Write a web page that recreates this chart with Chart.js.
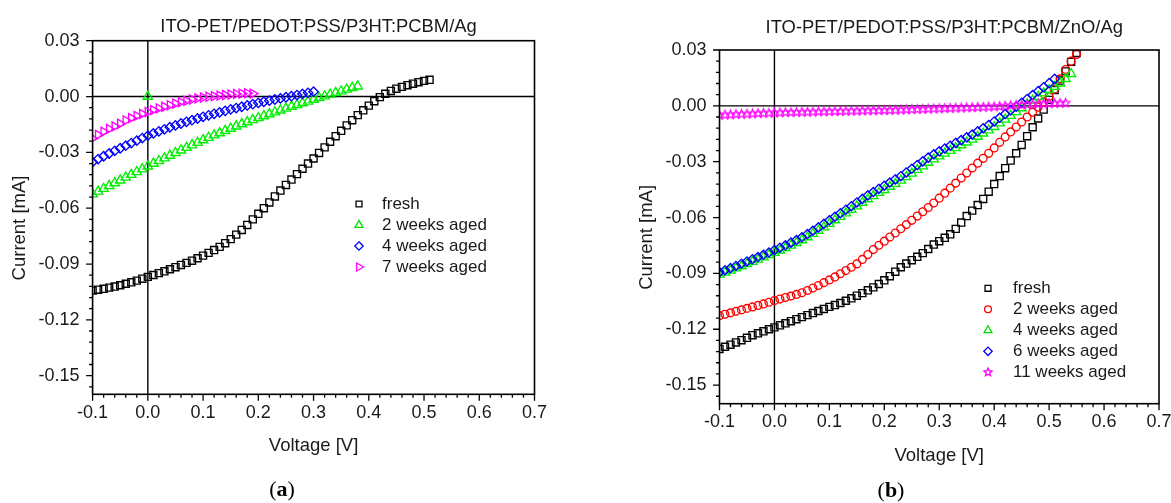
<!DOCTYPE html>
<html><head><meta charset="utf-8">
<script src="https://cdn.jsdelivr.net/npm/chart.js@4/dist/chart.umd.min.js"></script>
<style>
html,body{margin:0;padding:0;background:#fff;width:1171px;height:503px;overflow:hidden}
#wa{position:absolute;left:0;top:0;width:590px;height:503px}
#wb{position:absolute;left:590px;top:0;width:581px;height:503px}
</style></head><body>
<div id="wa"><canvas id="ca" width="590" height="503"></canvas></div>
<div id="wb"><canvas id="cb" width="581" height="503"></canvas></div>
<script>
// ---------- axis ticks ----------
const xTickValues = [-0.1,0.0,0.1,0.2,0.3,0.4,0.5,0.6,0.7];
const xTickLabels = ['-0.1','0.0','0.1','0.2','0.3','0.4','0.5','0.6','0.7'];
const yTickValues = [-0.15,-0.12,-0.09,-0.06,-0.03,0.00,0.03];
const yTickLabels = ['-0.15','-0.12','-0.09','-0.06','-0.03','0.00','0.03'];

// ---------- panel (a): ITO-PET/PEDOT:PSS/P3HT:PCBM/Ag ----------
const voltageA = [-0.10,-0.09,-0.08,-0.07,-0.06,-0.05,-0.04,-0.03,-0.02,-0.01,
  0.00,0.01,0.02,0.03,0.04,0.05,0.06,0.07,0.08,0.09,
  0.10,0.11,0.12,0.13,0.14,0.15,0.16,0.17,0.18,0.19,
  0.20,0.21,0.22,0.23,0.24,0.25,0.26,0.27,0.28,0.29,
  0.30,0.31,0.32,0.33,0.34,0.35,0.36,0.37,0.38,0.39,
  0.40,0.41,0.42,0.43,0.44,0.45,0.46,0.47,0.48,0.49,
  0.50,0.51];
const freshA = [-0.1043,-0.1038,-0.1033,-0.1027,-0.1021,-0.1014,-0.1006,-0.0998,-0.0989,-0.0979,
  -0.0969,-0.0959,-0.0949,-0.0939,-0.0928,-0.0917,-0.0905,-0.0894,-0.0882,-0.0869,
  -0.0855,-0.0840,-0.0825,-0.0808,-0.0788,-0.0766,-0.0742,-0.0717,-0.0690,-0.0660,
  -0.0630,-0.0600,-0.0569,-0.0537,-0.0505,-0.0475,-0.0446,-0.0417,-0.0388,-0.0360,
  -0.0333,-0.0303,-0.0273,-0.0243,-0.0213,-0.0184,-0.0155,-0.0127,-0.0100,-0.0074,
  -0.0049,-0.0025,-0.0003,0.0015,0.0030,0.0042,0.0052,0.0061,0.0069,0.0077,
  0.0084,0.0090];
const weeks2A = [-0.0525,-0.0510,-0.0495,-0.0480,-0.0465,-0.0450,-0.0435,-0.0420,-0.0405,-0.0390,
  -0.0375,-0.0360,-0.0346,-0.0331,-0.0317,-0.0303,-0.0289,-0.0275,-0.0261,-0.0248,
  -0.0234,-0.0221,-0.0208,-0.0196,-0.0184,-0.0172,-0.0160,-0.0148,-0.0137,-0.0126,
  -0.0115,-0.0105,-0.0094,-0.0084,-0.0074,-0.0064,-0.0054,-0.0045,-0.0035,-0.0026,
  -0.0016,-0.0007,0.0002,0.0011,0.0020,0.0029,0.0038,0.0047,0.0055];
const weeks2AExtraV = [0.0];
const weeks2AExtraI = [0.0];
const weeks4A = [-0.0352,-0.0336,-0.0321,-0.0306,-0.0292,-0.0278,-0.0264,-0.0250,-0.0237,-0.0223,
  -0.0210,-0.0198,-0.0187,-0.0176,-0.0165,-0.0155,-0.0145,-0.0136,-0.0127,-0.0118,
  -0.0109,-0.0101,-0.0093,-0.0085,-0.0077,-0.0069,-0.0062,-0.0055,-0.0048,-0.0041,
  -0.0034,-0.0028,-0.0022,-0.0016,-0.0010,-0.0004,0.0002,0.0008,0.0014,0.0020,
  0.0026];
const weeks7A = [-0.0225,-0.0206,-0.0189,-0.0174,-0.0160,-0.0146,-0.0129,-0.0116,-0.0104,-0.0093,
  -0.0083,-0.0073,-0.0064,-0.0055,-0.0047,-0.0038,-0.0030,-0.0023,-0.0016,-0.0010,
  -0.0005,-0.0001,0.0002,0.0005,0.0008,0.0011,0.0014,0.0016,0.0018,0.0016];

// ---------- panel (b): ITO-PET/PEDOT:PSS/P3HT:PCBM/ZnO/Ag ----------
const voltageB = [-0.10,-0.09,-0.08,-0.07,-0.06,-0.05,-0.04,-0.03,-0.02,-0.01,
  0.00,0.01,0.02,0.03,0.04,0.05,0.06,0.07,0.08,0.09,
  0.10,0.11,0.12,0.13,0.14,0.15,0.16,0.17,0.18,0.19,
  0.20,0.21,0.22,0.23,0.24,0.25,0.26,0.27,0.28,0.29,
  0.30,0.31,0.32,0.33,0.34,0.35,0.36,0.37,0.38,0.39,
  0.40,0.41,0.42,0.43,0.44,0.45,0.46,0.47,0.48,0.49,
  0.50,0.51,0.52,0.53,0.54,0.55];
const freshB = [-0.1306,-0.1294,-0.1283,-0.1271,-0.1259,-0.1246,-0.1232,-0.1222,-0.1211,-0.1200,
  -0.1190,-0.1179,-0.1168,-0.1157,-0.1146,-0.1135,-0.1124,-0.1113,-0.1102,-0.1091,
  -0.1080,-0.1070,-0.1059,-0.1047,-0.1034,-0.1020,-0.1006,-0.0991,-0.0975,-0.0957,
  -0.0937,-0.0915,-0.0891,-0.0867,-0.0847,-0.0829,-0.0811,-0.0791,-0.0769,-0.0745,
  -0.0727,-0.0709,-0.0690,-0.0661,-0.0627,-0.0592,-0.0563,-0.0533,-0.0500,-0.0461,
  -0.0420,-0.0377,-0.0335,-0.0294,-0.0255,-0.0210,-0.0163,-0.0115,-0.0068,-0.0020,
  0.0032,0.0085,0.0136,0.0185,0.0236,0.0284];
const weeks2B = [-0.1127,-0.1120,-0.1112,-0.1104,-0.1096,-0.1088,-0.1080,-0.1072,-0.1064,-0.1055,
  -0.1046,-0.1038,-0.1030,-0.1022,-0.1013,-0.1004,-0.0992,-0.0979,-0.0965,-0.0950,
  -0.0935,-0.0919,-0.0902,-0.0885,-0.0867,-0.0849,-0.0825,-0.0799,-0.0772,-0.0749,
  -0.0727,-0.0705,-0.0683,-0.0660,-0.0638,-0.0615,-0.0592,-0.0569,-0.0546,-0.0522,
  -0.0496,-0.0469,-0.0442,-0.0415,-0.0388,-0.0361,-0.0334,-0.0308,-0.0282,-0.0255,
  -0.0226,-0.0196,-0.0167,-0.0140,-0.0114,-0.0087,-0.0060,-0.0034,-0.0007,0.0021,
  0.0051,0.0090,0.0145,0.0195,0.0240,0.0276];
const weeks4B = [-0.0906,-0.0895,-0.0884,-0.0872,-0.0861,-0.0849,-0.0837,-0.0825,-0.0813,-0.0801,
  -0.0789,-0.0776,-0.0763,-0.0750,-0.0736,-0.0721,-0.0705,-0.0687,-0.0670,-0.0652,
  -0.0633,-0.0614,-0.0596,-0.0577,-0.0558,-0.0539,-0.0520,-0.0501,-0.0484,-0.0467,
  -0.0451,-0.0434,-0.0418,-0.0401,-0.0382,-0.0363,-0.0343,-0.0324,-0.0305,-0.0287,
  -0.0271,-0.0256,-0.0241,-0.0226,-0.0211,-0.0196,-0.0181,-0.0165,-0.0148,-0.0131,
  -0.0113,-0.0093,-0.0073,-0.0053,-0.0033,-0.0012,0.0009,0.0029,0.0049,0.0068,
  0.0086,0.0103,0.0121,0.0145,0.0172];
const weeks6B = [-0.0894,-0.0883,-0.0872,-0.0860,-0.0848,-0.0836,-0.0824,-0.0812,-0.0800,-0.0788,
  -0.0775,-0.0762,-0.0749,-0.0735,-0.0721,-0.0706,-0.0689,-0.0671,-0.0653,-0.0634,
  -0.0615,-0.0596,-0.0577,-0.0558,-0.0539,-0.0519,-0.0500,-0.0481,-0.0463,-0.0446,
  -0.0429,-0.0412,-0.0395,-0.0378,-0.0358,-0.0338,-0.0318,-0.0298,-0.0278,-0.0260,
  -0.0244,-0.0229,-0.0214,-0.0199,-0.0184,-0.0169,-0.0154,-0.0137,-0.0120,-0.0103,
  -0.0084,-0.0064,-0.0044,-0.0024,-0.0004,0.0016,0.0037,0.0058,0.0079,0.0100,
  0.0122,0.0145];
const weeks11B = [-0.0050,-0.0049,-0.0048,-0.0046,-0.0045,-0.0044,-0.0043,-0.0041,-0.0040,-0.0039,
  -0.0038,-0.0037,-0.0036,-0.0036,-0.0035,-0.0034,-0.0034,-0.0033,-0.0032,-0.0032,
  -0.0031,-0.0030,-0.0030,-0.0029,-0.0028,-0.0028,-0.0027,-0.0026,-0.0026,-0.0025,
  -0.0024,-0.0024,-0.0023,-0.0022,-0.0021,-0.0020,-0.0019,-0.0018,-0.0017,-0.0016,
  -0.0015,-0.0014,-0.0013,-0.0012,-0.0011,-0.0010,-0.0009,-0.0008,-0.0007,-0.0006,
  -0.0005,-0.0003,-0.0001,0.0001,0.0003,0.0005,0.0007,0.0009,0.0010,0.0011,
  0.0012,0.0013,0.0014,0.0015];

// ---------- helpers ----------
const FONT = '"Liberation Sans", Arial, sans-serif';
const TXT = '#1a1a1a';
Chart.defaults.font.family = FONT;
const xMin = -0.1, xMax = 0.7, xMinorStep = 0.02;
const yMin = -0.16, yMax = 0.03, yMinorStep = 0.006;

function pts(vs, is) { return is.map((c, i) => ({x: vs[i], y: c})); }

function starPath(g, cx, cy, r) {
  for (let i = 0; i < 10; i++) {
    const a = -Math.PI / 2 + i * Math.PI / 5;
    const rr = i % 2 ? r * 0.45 : r;
    const px = cx + rr * Math.cos(a), py = cy + rr * Math.sin(a);
    i ? g.lineTo(px, py) : g.moveTo(px, py);
  }
  g.closePath();
}
function starImage(color, r) {
  const c = document.createElement('canvas');
  const s = Math.ceil(2 * r + 3); c.width = s; c.height = s;
  const g = c.getContext('2d');
  g.strokeStyle = color; g.lineWidth = 1.2; g.beginPath();
  starPath(g, s / 2, s / 2, r); g.stroke();
  return c;
}
function drawMarker(ctx, m, x, y) {
  ctx.save(); ctx.strokeStyle = m.color; ctx.lineWidth = 1.3; ctx.beginPath();
  const r = m.r;
  if (m.shape === 'rect') { const s = r * Math.SQRT1_2; ctx.rect(x - s, y - s, 2 * s, 2 * s); }
  else if (m.shape === 'triangle' || m.shape === 'triangleRight') {
    const a0 = m.shape === 'triangle' ? 0 : Math.PI / 2;
    for (let k = 0; k < 3; k++) { const t = a0 + k * 2 * Math.PI / 3; const px = x + Math.sin(t) * r, py = y - Math.cos(t) * r; k ? ctx.lineTo(px, py) : ctx.moveTo(px, py); }
    ctx.closePath();
  }
  else if (m.shape === 'rectRot') { ctx.moveTo(x, y - r); ctx.lineTo(x + r, y); ctx.lineTo(x, y + r); ctx.lineTo(x - r, y); ctx.closePath(); }
  else if (m.shape === 'circle') { ctx.arc(x, y, r, 0, Math.PI * 2); }
  else if (m.shape === 'star') { starPath(ctx, x, y, r); }
  ctx.stroke(); ctx.restore();
}

function ds(label, data, color, style, r, rot, order) {
  return {label, data, showLine: false, pointStyle: style, pointRadius: r, pointHoverRadius: r,
    pointRotation: rot || 0, borderColor: color, pointBorderColor: color,
    backgroundColor: 'rgba(0,0,0,0)', pointBackgroundColor: 'rgba(0,0,0,0)',
    pointBorderWidth: 1.35, order: order};
}

function decor(o) {
  return {
    id: 'decor' + o.key,
    beforeDatasetsDraw(chart) {
      const {ctx, chartArea: a, scales: {x, y}} = chart;
      ctx.save(); ctx.strokeStyle = '#000'; ctx.lineWidth = 1.4;
      const px0 = x.getPixelForValue(0), py0 = y.getPixelForValue(0);
      ctx.beginPath();
      ctx.moveTo(a.left, py0); ctx.lineTo(a.right, py0);
      ctx.moveTo(px0, a.top); ctx.lineTo(px0, a.bottom);
      ctx.stroke(); ctx.restore();
    },
    afterDraw(chart) {
      const {ctx, chartArea: a, scales: {x, y}} = chart;
      ctx.save();
      ctx.strokeStyle = '#000'; ctx.lineWidth = 1.6;
      ctx.strokeRect(a.left, a.top, a.right - a.left, a.bottom - a.top);
      ctx.lineWidth = 1.3; ctx.beginPath();
      const nx = Math.round((xMax - xMin) / xMinorStep);
      for (let k = 0; k <= nx; k++) {
        const p = x.getPixelForValue(xMin + k * xMinorStep);
        ctx.moveTo(p, a.bottom); ctx.lineTo(p, a.bottom + (k % 5 === 0 ? 6.5 : 3.5));
      }
      for (let k = 0; yMax - k * yMinorStep >= yMin - 1e-9; k++) {
        const p = y.getPixelForValue(yMax - k * yMinorStep);
        ctx.moveTo(a.left, p); ctx.lineTo(a.left - (k % 5 === 0 ? 6.5 : 3.5), p);
      }
      ctx.stroke();
      // titles
      ctx.fillStyle = TXT; ctx.textBaseline = 'middle'; ctx.textAlign = 'center';
      ctx.font = '18.4px ' + FONT;
      ctx.fillText(o.title, (a.left + a.right) / 2 + 5, o.titleY);
      ctx.font = '18.5px ' + FONT;
      ctx.fillText('Voltage [V]', (a.left + a.right) / 2, a.bottom + 52);
      ctx.save();
      ctx.translate(a.left - 73, (a.top + a.bottom) / 2 + 10.5);
      ctx.rotate(-Math.PI / 2);
      ctx.fillText('Current [mA]', 0, 0);
      ctx.restore();
      // legend
      ctx.font = '17px ' + FONT; ctx.textAlign = 'left';
      o.legend.forEach((e, i) => {
        const yy = o.legY + i * o.legDy;
        drawMarker(ctx, e, o.legMx, yy);
        ctx.fillStyle = TXT;
        ctx.fillText(e.text, o.legTx, yy);
      });
      // caption (a)/(b)
      ctx.fillStyle = '#000';
      const fN = '22px "Liberation Serif", serif', fB = 'bold 22px "Liberation Serif", serif';
      ctx.font = fN; const wP = ctx.measureText('(').width, wQ = ctx.measureText(')').width;
      ctx.font = fB; const wL = ctx.measureText(o.capLetter).width;
      let cx = o.capX - (wP + wL + wQ) / 2;
      ctx.textAlign = 'left';
      ctx.font = fN; ctx.fillText('(', cx, o.capY); cx += wP;
      ctx.font = fB; ctx.fillText(o.capLetter, cx, o.capY); cx += wL;
      ctx.font = fN; ctx.fillText(')', cx, o.capY);
      ctx.restore();
    }
  };
}

function build(id, o) {
  return new Chart(document.getElementById(id), {
    type: 'scatter',
    data: {datasets: o.datasets},
    options: {
      responsive: false, animation: false, devicePixelRatio: 1,
      layout: {padding: o.padding},
      plugins: {legend: {display: false}, tooltip: {enabled: false}, title: {display: false}},
      scales: {
        x: {type: 'linear', min: xMin, max: xMax,
          grid: {display: false, drawTicks: false}, border: {display: false},
          afterBuildTicks: s => { s.ticks = xTickValues.map(v => ({value: v})); },
          afterFit: s => { s.height = 30; s.paddingLeft = 0; s.paddingRight = 0; },
          ticks: {callback: (v, i) => xTickLabels[i], autoSkip: false, maxRotation: 0, minRotation: 0,
            padding: 7.5, color: TXT, font: {size: 18}}},
        y: {type: 'linear', min: yMin, max: yMax,
          grid: {display: false, drawTicks: false}, border: {display: false},
          afterBuildTicks: s => { s.ticks = yTickValues.map(v => ({value: v})); },
          afterFit: s => { s.width = o.yWidth; s.paddingTop = 0; s.paddingBottom = 0; },
          ticks: {callback: (v, i) => yTickLabels[i], autoSkip: false, padding: 13, color: TXT, font: {size: 18}}}
      }
    },
    plugins: [decor(o)]
  });
}

const starMagenta = starImage('#ff00ff', 4.6);

build('ca', {
  key: 'A', title: 'ITO-PET/PEDOT:PSS/P3HT:PCBM/Ag', titleY: 26.5,
  capLetter: 'a', capX: 282, capY: 490,
  yWidth: 92.6, padding: {left: 0, right: 55.5, top: 40.7, bottom: 78.7},
  legMx: 359, legTx: 382, legY: 204, legDy: 21,
  legend: [
    {text: 'fresh', color: '#000000', shape: 'rect', r: 4.2},
    {text: '2 weeks aged', color: '#00e000', shape: 'triangle', r: 4.6},
    {text: '4 weeks aged', color: '#0000ff', shape: 'rectRot', r: 4.2},
    {text: '7 weeks aged', color: '#ff00ff', shape: 'triangleRight', r: 4.6}
  ],
  datasets: [
    ds('fresh', pts(voltageA, freshA), '#000000', 'rect', 5.0, 0, 3),
    ds('2 weeks aged', pts(voltageA, weeks2A).concat(pts(weeks2AExtraV, weeks2AExtraI)), '#00ee00', 'triangle', 5.4, 0, 2),
    ds('4 weeks aged', pts(voltageA, weeks4A), '#0000ff', 'rectRot', 4.7, 0, 1),
    ds('7 weeks aged', pts(voltageA, weeks7A), '#ff00ff', 'triangle', 5.2, 90, 0)
  ]
});

build('cb', {
  key: 'B', title: 'ITO-PET/PEDOT:PSS/P3HT:PCBM/ZnO/Ag', titleY: 27.5,
  capLetter: 'b', capX: 301, capY: 491,
  yWidth: 129.5, padding: {left: 0, right: 12, top: 50, bottom: 69.3},
  legMx: 398, legTx: 423, legY: 288.3, legDy: 21,
  legend: [
    {text: 'fresh', color: '#000000', shape: 'rect', r: 4.2},
    {text: '2 weeks aged', color: '#ff0000', shape: 'circle', r: 3.4},
    {text: '4 weeks aged', color: '#00e000', shape: 'triangle', r: 4.6},
    {text: '6 weeks aged', color: '#0000ff', shape: 'rectRot', r: 4.2},
    {text: '11 weeks aged', color: '#ff00ff', shape: 'star', r: 4.2}
  ],
  datasets: [
    ds('fresh', pts(voltageB, freshB), '#000000', 'rect', 5.0, 0, 4),
    ds('2 weeks aged', pts(voltageB, weeks2B), '#ff0000', 'circle', 3.9, 0, 3),
    ds('4 weeks aged', pts(voltageB, weeks4B), '#00ee00', 'triangle', 5.3, 0, 2),
    ds('6 weeks aged', pts(voltageB, weeks6B), '#0000ff', 'rectRot', 4.6, 0, 1),
    ds('11 weeks aged', pts(voltageB, weeks11B), '#ff00ff', starMagenta, 4.6, 0, 0)
  ]
});
</script>
</body></html>
